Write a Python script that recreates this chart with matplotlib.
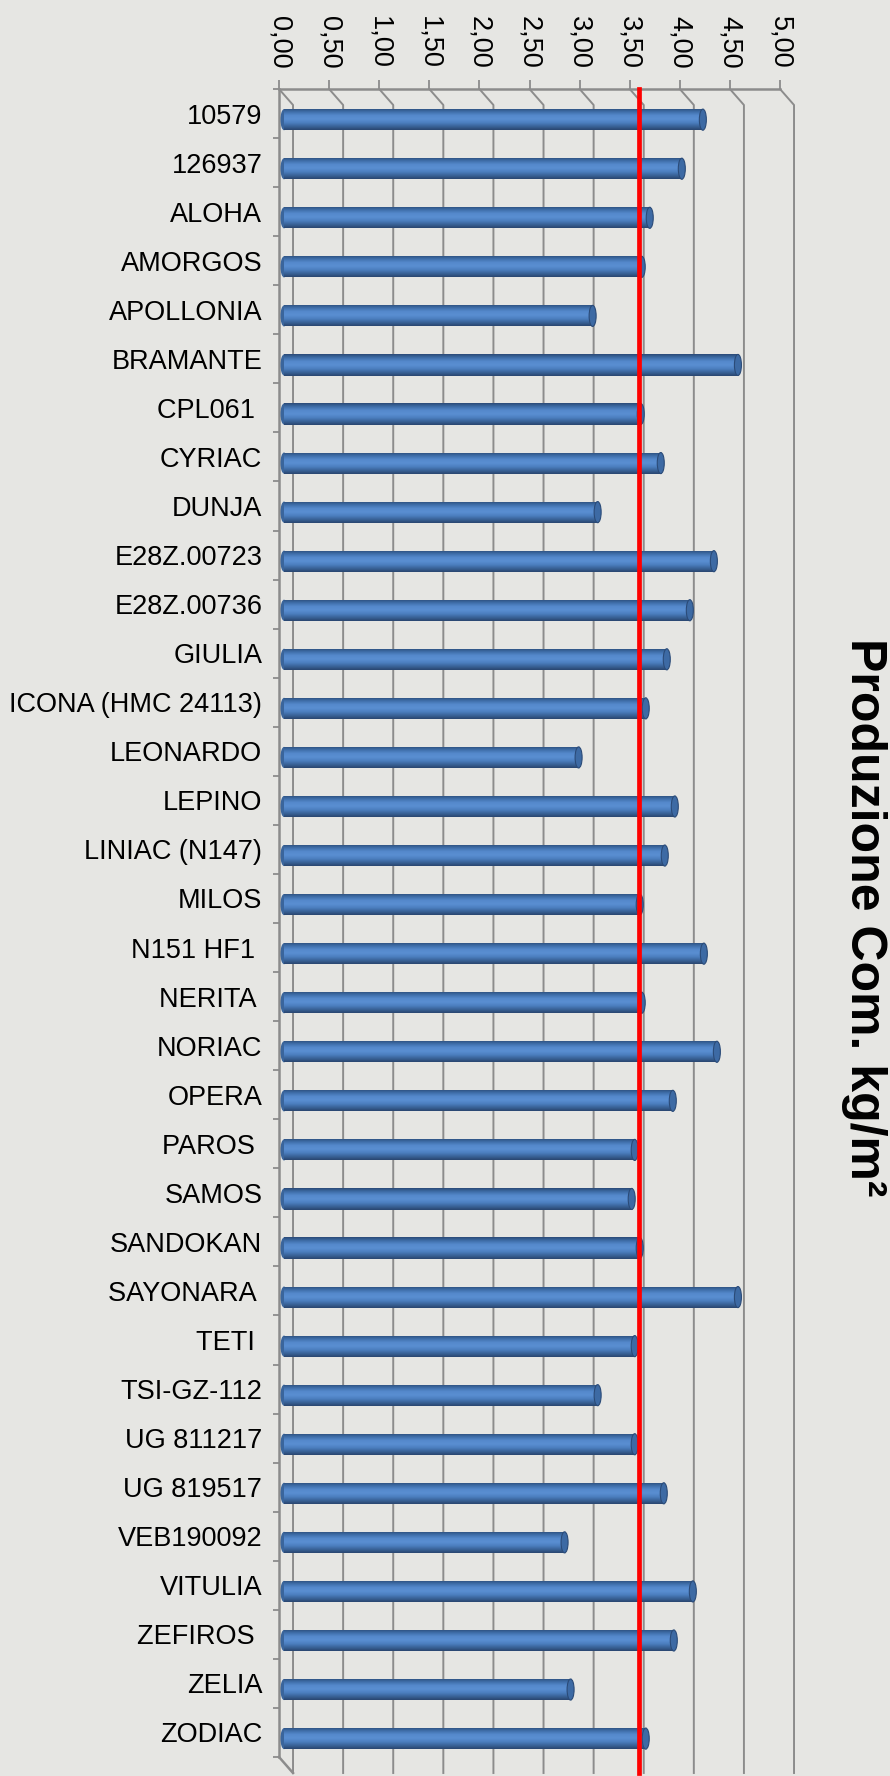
import numpy as np
import matplotlib.pyplot as plt
from matplotlib.patches import Rectangle, Ellipse
from matplotlib.colors import LinearSegmentedColormap

varieties = ["10579", "126937", "ALOHA", "AMORGOS", "APOLLONIA", "BRAMANTE",
             "CPL061 ", "CYRIAC", "DUNJA", "E28Z.00723", "E28Z.00736", "GIULIA",
             "ICONA (HMC 24113)", "LEONARDO", "LEPINO", "LINIAC (N147)", "MILOS",
             "N151 HF1 ", "NERITA ", "NORIAC", "OPERA", "PAROS ", "SAMOS",
             "SANDOKAN", "SAYONARA ", "TETI ", "TSI-GZ-112", "UG 811217",
             "UG 819517", "VEB190092", "VITULIA", "ZEFIROS ", "ZELIA", "ZODIAC"]
produzione = [4.18, 3.97, 3.65, 3.57, 3.08, 4.53,
              3.56, 3.76, 3.13, 4.29, 4.05, 3.82,
              3.61, 2.94, 3.90, 3.80, 3.55,
              4.19, 3.57, 4.32, 3.88, 3.50, 3.47,
              3.55, 4.53, 3.50, 3.13, 3.50,
              3.79, 2.80, 4.08, 3.89, 2.86, 3.61]
media = 3.54  # red reference line
ticks = np.arange(0, 5.01, 0.5)
tick_labels = [f"{t:.2f}".replace(".", ",") for t in ticks]

# oblique 3D look: offset of the front plane from the back plane (data units)
DX, DY = 0.14, 0.326
BAR_LEFT, BAR_H, BAR_DY = 0.05, 0.43, 0.125
GRID = "#8c8c8c"
BG = "#e6e6e3"

plt.rcParams["font.family"] = ["Liberation Sans", "DejaVu Sans"]
fig = plt.figure(figsize=(8.9, 17.76), dpi=100, facecolor=BG)
ax = fig.add_axes([279 / 890, 19 / 1776, 501 / 890, 1668 / 1776])
ax.set_facecolor("none")
n = len(varieties)

for side in ["right", "bottom"]:
    ax.spines[side].set_visible(False)
for side in ["top", "left"]:
    ax.spines[side].set_color(GRID)
    ax.spines[side].set_linewidth(1.8)

ax.xaxis.tick_top()
ax.set_xticks(ticks)
ax.set_xticklabels(tick_labels, rotation=270, fontsize=19.5)
ax.tick_params(axis="x", direction="out", length=6.5, width=1.3, color=GRID, pad=8)

ax.set_yticks(np.arange(n + 1) - 0.5)
ax.set_yticklabels([])
ax.set_yticks(np.arange(n), minor=True)
ax.set_yticklabels(varieties, minor=True, fontsize=19.5)
ax.tick_params(axis="y", which="major", direction="out", length=4.5, width=1.3, color=GRID)
ax.tick_params(axis="y", which="minor", length=0, pad=12)

# floor gridlines: short diagonal from the back edge, then straight down the front
for t in ticks:
    ax.plot([t, t + DX, t + DX], [-0.5, -0.5 + DY, n - 0.5 + DY],
            color=GRID, lw=1.4, clip_on=False, zorder=1)
ax.plot([0, DX], [n - 0.5, n - 0.5 + DY], color=GRID, lw=1.8, clip_on=False, zorder=1)

cmap = LinearSegmentedColormap.from_list(
    "cyl", ["#2b4b78", "#3f6faa", "#5589cc", "#5a8fd2", "#4c7fc0", "#3a6499", "#2a4670"])
grad = np.linspace(0, 1, 64).reshape(-1, 1)

for i, v in enumerate(produzione):
    y = i + BAR_DY
    ax.add_patch(Ellipse((BAR_LEFT, y), 0.07, BAR_H, facecolor="#3a659c",
                         edgecolor="none", zorder=2.9))
    rect = Rectangle((BAR_LEFT, y - BAR_H / 2), v, BAR_H, facecolor="#4f81bd",
                     edgecolor="none", zorder=3)
    ax.add_patch(rect)
    im = ax.imshow(grad, extent=(BAR_LEFT, BAR_LEFT + v, y + BAR_H / 2, y - BAR_H / 2),
                   aspect="auto", cmap=cmap, zorder=3.1, interpolation="bilinear")
    im.set_clip_path(rect)
    ax.add_patch(Ellipse((BAR_LEFT + v, y), 0.07, BAR_H, facecolor="#3d6aa4",
                         edgecolor="#2b4b78", lw=0.8, zorder=3.2))

ax.plot([BAR_LEFT + media] * 2, [-0.5, n - 0.5 + DY], color="#ff0000", lw=3.4,
        clip_on=False, zorder=5)

ax.set_xlim(0, 5)
ax.set_ylim(n - 0.5, -0.5)

fig.text(864 / 890, 1 - 917 / 1776, "Produzione Com. kg/m²", rotation=270,
         fontsize=36, fontweight="bold", ha="center", va="center")

fig.savefig("out.png", dpi=100, facecolor=BG)
